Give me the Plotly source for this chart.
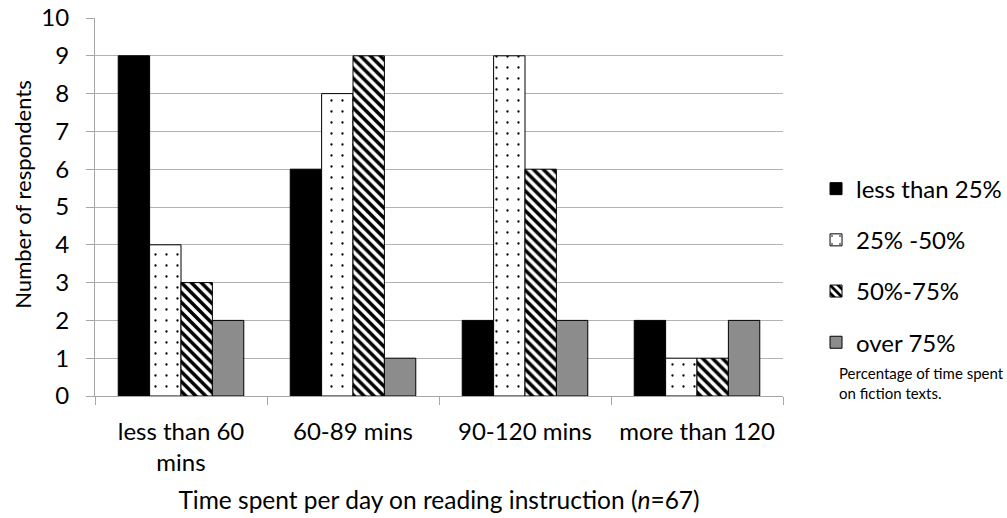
import plotly.graph_objects as go

categories = ["less than 60<br>mins", "60-89 mins", "90-120 mins", "more than 120"]
series_names = ["less than 25%", "25% -50%", "50%-75%", "over 75%"]
less_than_25 = [9, 6, 2, 2]
pct_25_50 = [4, 8, 9, 1]
pct_50_75 = [3, 9, 6, 1]
over_75 = [2, 1, 2, 2]
y_ticks = list(range(0, 11))

FONT = "Lato, 'Open Sans', sans-serif"

fig = go.Figure()
styles = [
    dict(color="#000000", pattern=None),
    dict(color="#ffffff", pattern=dict(shape=".", fgcolor="#000000", bgcolor="#ffffff",
                                       size=11, solidity=0.035, fgopacity=1)),
    dict(color="#ffffff", pattern=dict(shape="\\", fgcolor="#000000", bgcolor="#ffffff",
                                       size=7, solidity=0.5, fgopacity=1)),
    dict(color="#8c8c8c", pattern=None),
]
for i, (name, vals) in enumerate(zip(series_names, [less_than_25, pct_25_50, pct_50_75, over_75])):
    st = styles[i]
    marker = dict(color=st["color"], line=dict(color="#000000", width=1))
    if st["pattern"] is not None:
        marker["pattern"] = st["pattern"]
    fig.add_trace(go.Bar(x=categories, y=vals, name=name, marker=marker, legendgroup=str(i)))

fig.update_layout(
    width=1007, height=518,
    margin=dict(l=95, r=224, t=18, b=122, autoexpand=False),
    paper_bgcolor="white", plot_bgcolor="white",
    barmode="group", bargap=0.27, bargroupgap=0,
    font=dict(family=FONT, size=24, color="#000000"),
    showlegend=True,
    legend=dict(x=1.048, xanchor="left", y=0.607, yanchor="top",
                font=dict(size=24), tracegroupgap=17, itemwidth=30,
                bgcolor="rgba(0,0,0,0)"),
    xaxis=dict(showline=True, linecolor="#a6a6a6", linewidth=1, automargin=False,
               ticks="outside", tickson="boundaries", ticklen=8, tickcolor="#a6a6a6",
               tickfont=dict(size=24), ticklabelstandoff=14,
               title=dict(text="Time spent per day on reading instruction (<i>n</i>=67)",
                          font=dict(size=24.5), standoff=16)),
    yaxis=dict(range=[0, 10], tickvals=y_ticks, showline=True, linecolor="#a6a6a6", linewidth=1,
               automargin=False,
               ticks="outside", ticklen=8, tickcolor="#a6a6a6", ticklabelstandoff=12,
               showgrid=True, gridcolor="#b3b3b3", gridwidth=1,
               tickfont=dict(size=24)),
)

fig.add_annotation(text="Number of respondents", textangle=-90,
                   xref="paper", yref="paper", x=-0.1047, y=0.535,
                   xanchor="center", yanchor="middle", showarrow=False,
                   font=dict(size=22, family=FONT))

fig.add_annotation(text="Percentage of time spent<br>on fiction texts.",
                   xref="paper", yref="paper", x=1.079, y=0.035, xanchor="left", yanchor="middle",
                   align="left", showarrow=False, font=dict(size=15, family=FONT))

fig.write_html("out.html")
